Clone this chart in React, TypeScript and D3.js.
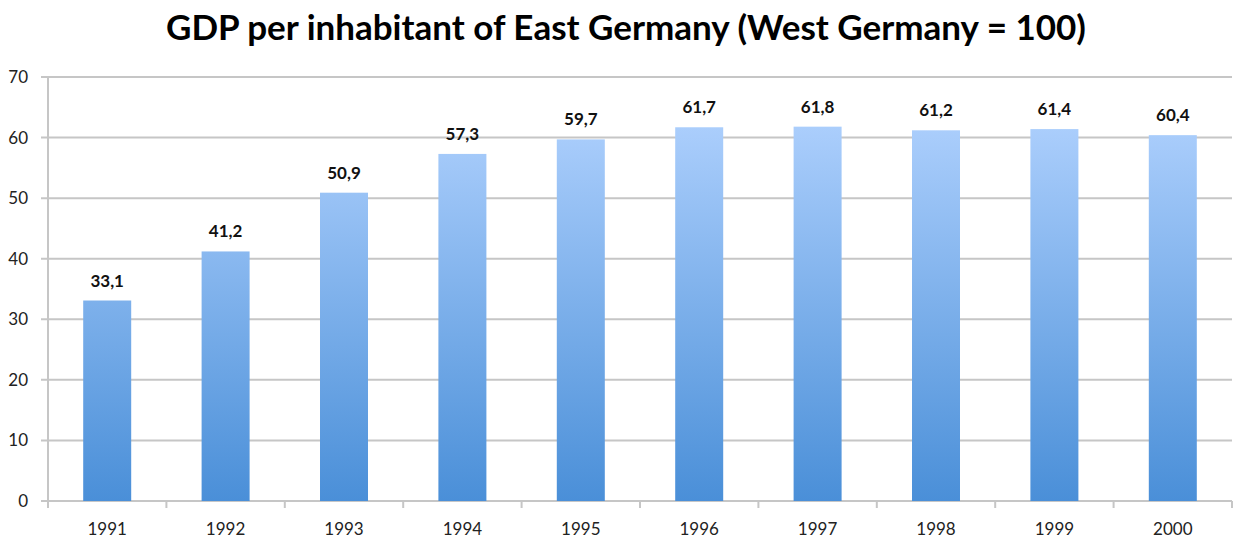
import React from "react";
import * as d3 from "d3";

const years = ["1991", "1992", "1993", "1994", "1995", "1996", "1997", "1998", "1999", "2000"];
const values = [33.1, 41.2, 50.9, 57.3, 59.7, 61.7, 61.8, 61.2, 61.4, 60.4];
const yTicks = [0, 10, 20, 30, 40, 50, 60, 70];
const title = "GDP per inhabitant of East Germany (West Germany = 100)";

export default function App() {
  const W = 1239, H = 538;
  const left = 48, right = 1232, top = 77, bottom = 501;
  const x = d3.scaleBand<string>().domain(years).range([left, right]).paddingInner(0).paddingOuter(0);
  const y = d3.scaleLinear().domain([0, 70]).range([bottom, top]);
  const bw = 48;
  const fmt = (v: number) => v.toFixed(1).replace(".", ",");
  const font = "Lato, 'Open Sans', sans-serif";
  const grid = "#c6c6c6";
  return (
    <svg width={W} height={H} style={{ position: "absolute", left: 0, top: 0 }}>
      <defs>
        <linearGradient id="barGrad" gradientUnits="userSpaceOnUse" x1="0" y1={y(62)} x2="0" y2={bottom}>
          <stop offset="0" stopColor="#abcefc" />
          <stop offset="1" stopColor="#4a8fd8" />
        </linearGradient>
      </defs>
      <rect width={W} height={H} fill="#fff" />
      <text x={626} y={40} textAnchor="middle" fontFamily={font} fontWeight="bold" fontSize={35} fill="#000">{title}</text>
      {yTicks.map((t) => (
        <g key={t}>
          <line x1={left - 7} x2={right} y1={y(t)} y2={y(t)} stroke={grid} strokeWidth={2} />
          <text x={28} y={y(t) + 6} textAnchor="end" fontFamily={font} fontSize={17} fill="#222">{t}</text>
        </g>
      ))}
      <line x1={left} x2={left} y1={top} y2={bottom} stroke={grid} strokeWidth={2} />
      {[...years.map((d) => x(d)!), right].map((tx, i) => (
        <line key={i} x1={tx} x2={tx} y1={bottom} y2={bottom + 7} stroke={grid} strokeWidth={2} />
      ))}
      {years.map((d, i) => {
        const cx = x(d)! + x.bandwidth() / 2;
        return (
          <g key={d}>
            <rect x={cx - bw / 2} y={y(values[i])} width={bw} height={bottom - y(values[i])} fill="url(#barGrad)" />
            <text x={cx} y={y(values[i]) - 14} textAnchor="middle" fontFamily={font} fontWeight="bold" fontSize={17} fill="#111">{fmt(values[i])}</text>
            <text x={cx} y={535} textAnchor="middle" fontFamily={font} fontSize={17} fill="#222">{d}</text>
          </g>
        );
      })}
    </svg>
  );
}
